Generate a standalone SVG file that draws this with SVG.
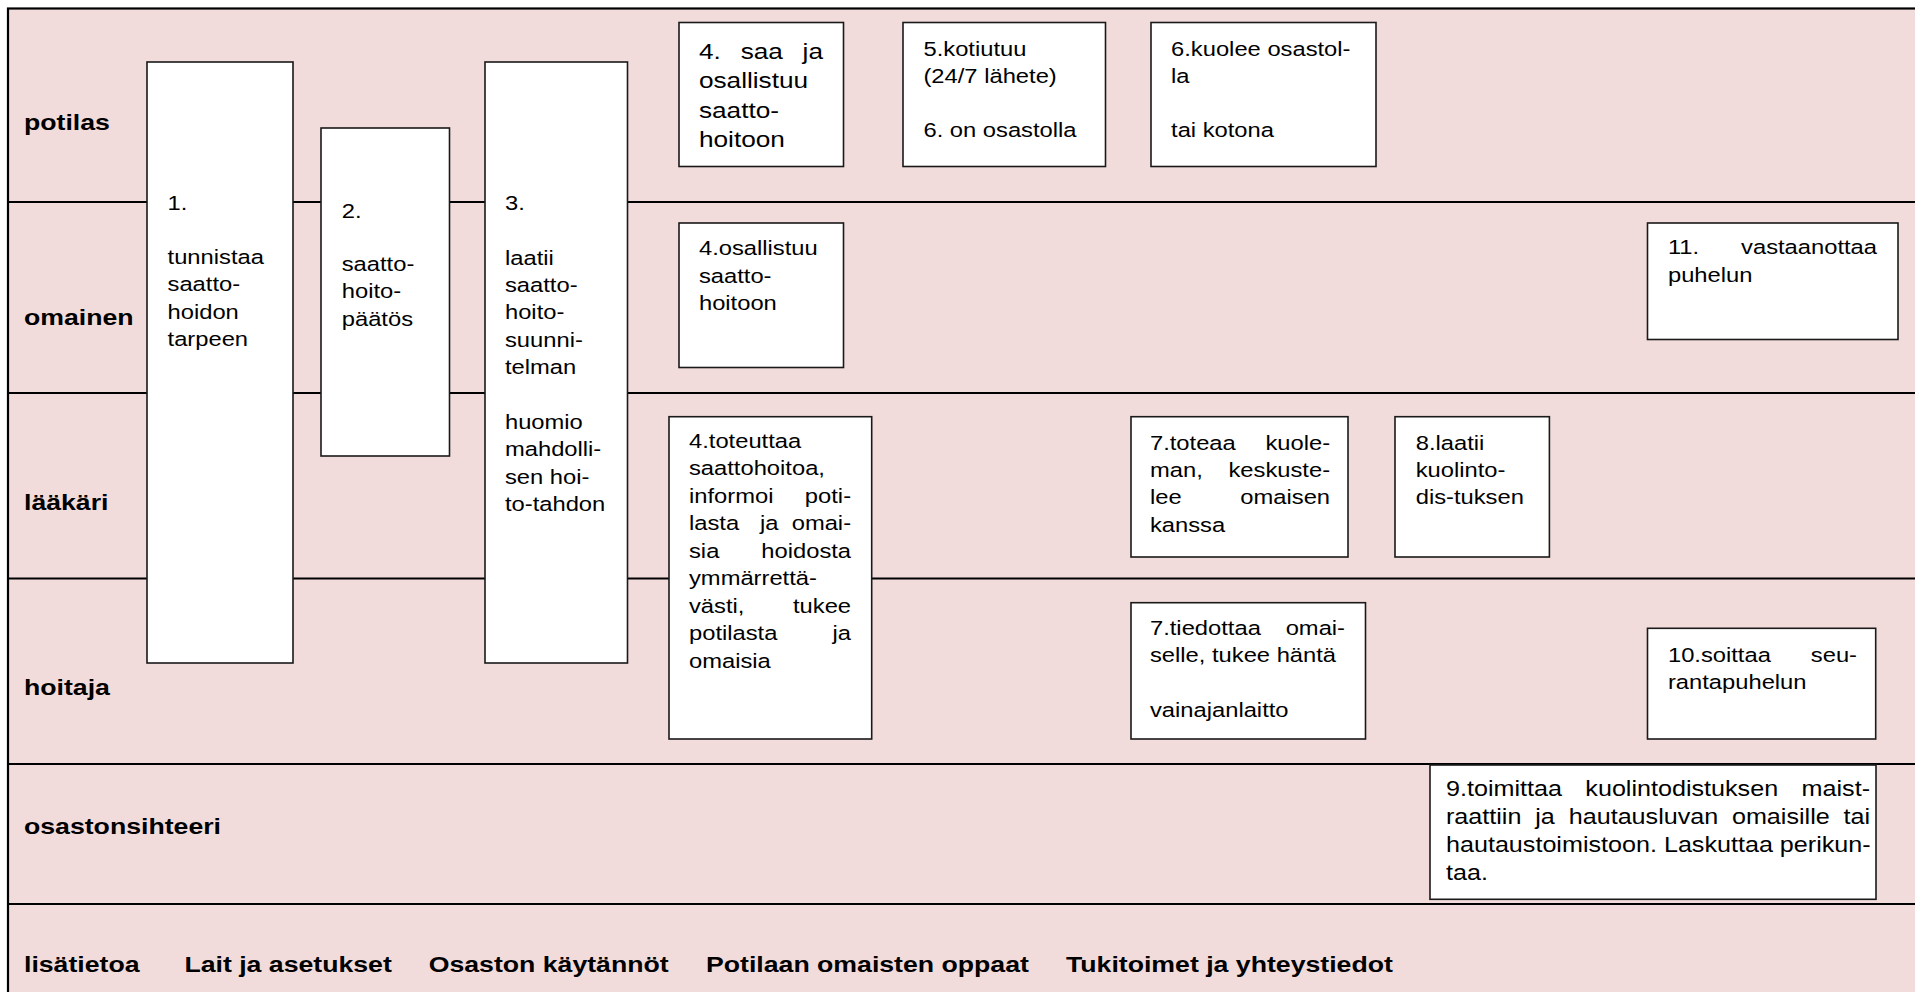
<svg xmlns="http://www.w3.org/2000/svg" width="1915" height="992" viewBox="0 0 1915 992">
<style>
.bg{fill:#f2dcdb;stroke:#000;stroke-width:2.2}
.lane{stroke:#000;stroke-width:2.2;fill:none}
.box{fill:#fff;stroke:#1a1a1a;stroke-width:1.6}
text{font-family:"Liberation Sans",Arial,sans-serif;fill:#000}
.t{font-size:20.3px}
.L{font-size:22.4px}
.m{font-size:21.5px}
.b{font-size:22.8px;font-weight:bold}
.e{text-anchor:end}
.c{text-anchor:middle}
</style>
<rect x="0" y="0" width="1915" height="992" fill="#fff"/>
<rect class="bg" x="8" y="8.5" width="1930" height="1000"/>
<g id="lanes">
<line class="lane" x1="8" y1="202" x2="1915" y2="202"/>
<line class="lane" x1="8" y1="393" x2="1915" y2="393"/>
<line class="lane" x1="8" y1="578.5" x2="1915" y2="578.5"/>
<line class="lane" x1="8" y1="764" x2="1915" y2="764"/>
<line class="lane" x1="8" y1="904" x2="1915" y2="904"/>
</g>
<g id="lane-labels" transform="scale(1.17,1)">
<text class="b" x="20.5" y="130">potilas</text>
<text class="b" x="20.5" y="325">omainen</text>
<text class="b" x="20.5" y="510">lääkäri</text>
<text class="b" x="20.5" y="695">hoitaja</text>
<text class="b" x="20.5" y="834">osastonsihteeri</text>
</g>
<g id="footer" transform="scale(1.17,1)">
<text class="b" x="20.5" y="972">lisätietoa</text>
<text class="b" x="157.6" y="972">Lait ja asetukset</text>
<text class="b" x="366.4" y="972">Osaston käytännöt</text>
<text class="b" x="603.4" y="972">Potilaan omaisten oppaat</text>
<text class="b" x="911.1" y="972">Tukitoimet ja yhteystiedot</text>
</g>
<g id="n1">
<rect class="box" x="147" y="62" width="146" height="601"/>
<text class="t" transform="scale(1.17,1)"><tspan x="143.2" y="210">1.</tspan><tspan x="143.2" y="264">tunnistaa</tspan><tspan x="143.2" y="291.5">saatto-</tspan><tspan x="143.2" y="319">hoidon</tspan><tspan x="143.2" y="346.5">tarpeen</tspan></text>
</g>
<g id="n2">
<rect class="box" x="321" y="128" width="128.5" height="328"/>
<text class="t" transform="scale(1.17,1)"><tspan x="292.1" y="218">2.</tspan><tspan x="292.1" y="271">saatto-</tspan><tspan x="292.1" y="298">hoito-</tspan><tspan x="292.1" y="326">päätös</tspan></text>
</g>
<g id="n3">
<rect class="box" x="485" y="62" width="142.5" height="601"/>
<text class="t" transform="scale(1.17,1)"><tspan x="431.6" y="210">3.</tspan><tspan x="431.6" y="265">laatii</tspan><tspan x="431.6" y="292">saatto-</tspan><tspan x="431.6" y="319">hoito-</tspan><tspan x="431.6" y="347">suunni-</tspan><tspan x="431.6" y="374">telman</tspan><tspan x="431.6" y="429">huomio</tspan><tspan x="431.6" y="456">mahdolli-</tspan><tspan x="431.6" y="484">sen hoi-</tspan><tspan x="431.6" y="511">to-tahdon</tspan></text>
</g>
<g id="n4-potilas">
<rect class="box" x="679" y="22.5" width="164.5" height="144"/>
<text class="L" transform="scale(1.17,1)"><tspan x="597.4" y="59">4.</tspan><tspan class="c" x="651.1" y="59">saa</tspan><tspan class="e" x="703.4" y="59">ja</tspan><tspan x="597.4" y="88.5">osallistuu</tspan><tspan x="597.4" y="118">saatto-</tspan><tspan x="597.4" y="147.5">hoitoon</tspan></text>
</g>
<g id="n5-potilas">
<rect class="box" x="903" y="22.5" width="202.5" height="144"/>
<text class="t" transform="scale(1.17,1)"><tspan x="789.3" y="56">5.kotiutuu</tspan><tspan x="789.3" y="83">(24/7 lähete)</tspan><tspan x="789.3" y="137">6. on osastolla</tspan></text>
</g>
<g id="n6-potilas">
<rect class="box" x="1151" y="22.5" width="225" height="144"/>
<text class="t" transform="scale(1.17,1)"><tspan x="1000.9" y="56">6.kuolee osastol-</tspan><tspan x="1000.9" y="83">la</tspan><tspan x="1000.9" y="137">tai kotona</tspan></text>
</g>
<g id="n4-omainen">
<rect class="box" x="679" y="223" width="164.5" height="144.5"/>
<text class="t" transform="scale(1.17,1)"><tspan x="597.4" y="255">4.osallistuu</tspan><tspan x="597.4" y="283">saatto-</tspan><tspan x="597.4" y="310">hoitoon</tspan></text>
</g>
<g id="n11-omainen">
<rect class="box" x="1647.5" y="223" width="250.5" height="116.5"/>
<text class="t" transform="scale(1.17,1)"><tspan x="1425.6" y="254">11.</tspan><tspan class="e" x="1604.3" y="254">vastaanottaa</tspan><tspan x="1425.6" y="282">puhelun</tspan></text>
</g>
<g id="n4-laakari">
<rect class="box" x="669" y="416.7" width="202.7" height="322.3"/>
<text class="t" transform="scale(1.17,1)"><tspan x="588.9" y="448">4.toteuttaa</tspan><tspan x="588.9" y="475.5">saattohoitoa,</tspan><tspan x="588.9" y="503">informoi</tspan><tspan class="e" x="727.4" y="503">poti-</tspan><tspan x="588.9" y="530.5">lasta</tspan><tspan x="649.6" y="530.5">ja</tspan><tspan class="e" x="727.4" y="530.5">omai-</tspan><tspan x="588.9" y="558">sia</tspan><tspan class="e" x="727.4" y="558">hoidosta</tspan><tspan x="588.9" y="585.5">ymmärrettä-</tspan><tspan x="588.9" y="613">västi,</tspan><tspan class="e" x="727.4" y="613">tukee</tspan><tspan x="588.9" y="640.5">potilasta</tspan><tspan class="e" x="727.4" y="640.5">ja</tspan><tspan x="588.9" y="668">omaisia</tspan></text>
</g>
<g id="n7-laakari">
<rect class="box" x="1131" y="416.7" width="217" height="140.3"/>
<text class="t" transform="scale(1.17,1)"><tspan x="982.9" y="450">7.toteaa</tspan><tspan class="e" x="1136.8" y="450">kuole-</tspan><tspan x="982.9" y="477">man,</tspan><tspan class="e" x="1136.8" y="477">keskuste-</tspan><tspan x="982.9" y="504.5">lee</tspan><tspan class="e" x="1136.8" y="504.5">omaisen</tspan><tspan x="982.9" y="532">kanssa</tspan></text>
</g>
<g id="n8-laakari">
<rect class="box" x="1395" y="416.7" width="154.4" height="140.3"/>
<text class="t" transform="scale(1.17,1)"><tspan x="1210" y="450">8.laatii</tspan><tspan x="1210" y="477">kuolinto-</tspan><tspan x="1210" y="504.5">dis-tuksen</tspan></text>
</g>
<g id="n7-hoitaja">
<rect class="box" x="1131" y="602.7" width="234.5" height="136.3"/>
<text class="t" transform="scale(1.17,1)"><tspan x="982.9" y="635">7.tiedottaa</tspan><tspan class="e" x="1149.6" y="635">omai-</tspan><tspan x="982.9" y="662.5">selle, tukee häntä</tspan><tspan x="982.9" y="717.5">vainajanlaitto</tspan></text>
</g>
<g id="n10-hoitaja">
<rect class="box" x="1647.5" y="628.3" width="228.2" height="110.7"/>
<text class="t" transform="scale(1.17,1)"><tspan x="1425.6" y="662">10.soittaa</tspan><tspan class="e" x="1587.2" y="662">seu-</tspan><tspan x="1425.6" y="689">rantapuhelun</tspan></text>
</g>
<g id="n9-osastonsihteeri">
<rect class="box" x="1430" y="765" width="446" height="134.3"/>
<text class="m" transform="scale(1.17,1)"><tspan x="1235.9" y="796">9.toimittaa</tspan><tspan class="c" x="1437.4" y="796">kuolintodistuksen</tspan><tspan class="e" x="1598.3" y="796">maist-</tspan><tspan x="1235.9" y="824">raattiin</tspan><tspan x="1312.2" y="824">ja</tspan><tspan x="1340.8" y="824">hautausluvan</tspan><tspan x="1480.3" y="824">omaisille</tspan><tspan class="e" x="1598.3" y="824">tai</tspan><tspan x="1235.9" y="852">hautaustoimistoon. Laskuttaa perikun-</tspan><tspan x="1235.9" y="880">taa.</tspan></text>
</g>
</svg>
